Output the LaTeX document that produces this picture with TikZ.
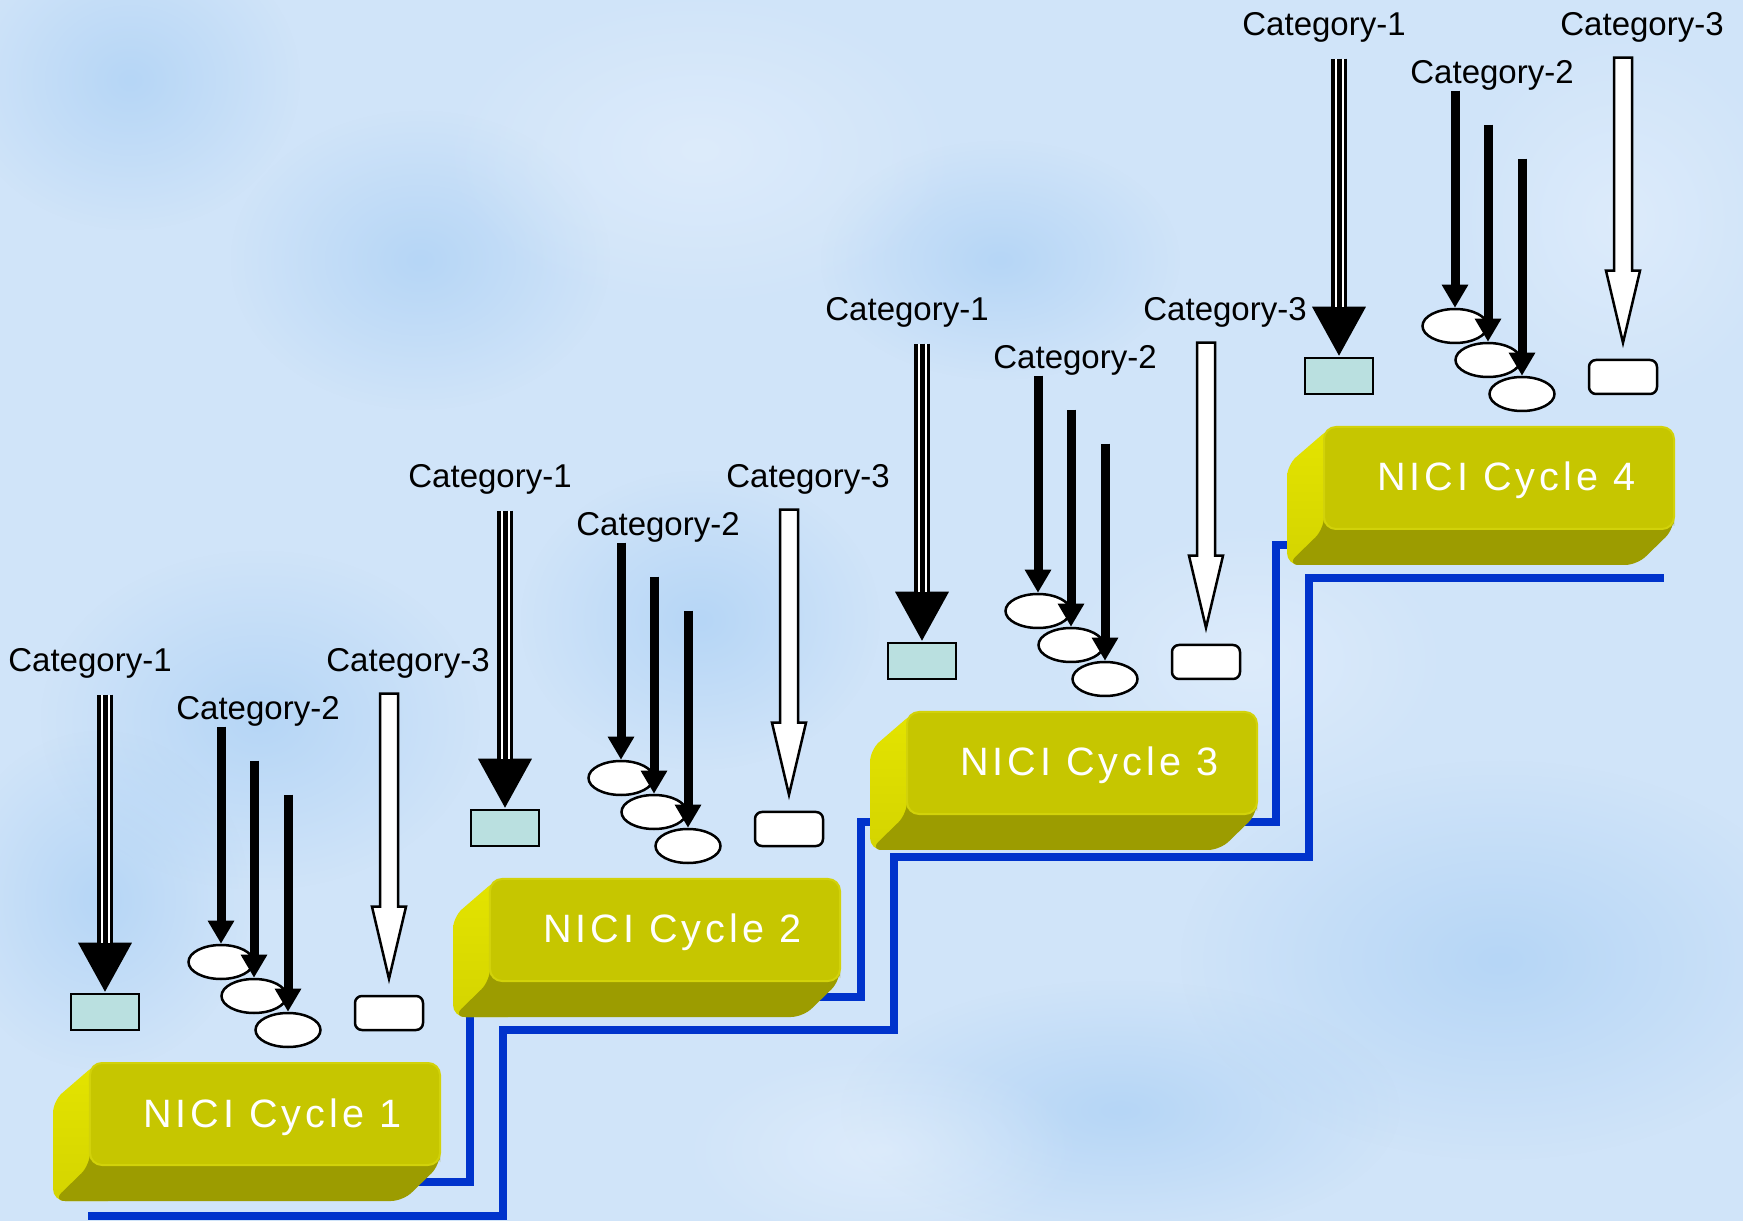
\documentclass[tikz,border=0pt]{standalone}
\usepackage{fontspec}
\setmainfont{Liberation Sans}
\newfontfamily\cyclefont[LetterSpace=10]{Liberation Sans}
\usetikzlibrary{arrows.meta,calc,shapes.geometric,fadings}

\definecolor{bgblue}{RGB}{208,228,249}
\definecolor{bgdark}{RGB}{156,200,243}
\definecolor{bglight}{RGB}{234,243,253}
\definecolor{stairblue}{RGB}{0,51,204}
\definecolor{boxfront}{RGB}{198,198,0}
\definecolor{boxrim}{RGB}{210,210,10}
\definecolor{boxlefttop}{RGB}{228,228,0}
\definecolor{boxleftbot}{RGB}{212,212,0}
\definecolor{boxbottom}{RGB}{156,156,0}
\definecolor{catcyan}{RGB}{186,224,224}

\tikzfading[name=softblob, inner color=transparent!50, outer color=transparent!100]

\tikzset{
  catlabel/.style={anchor=base west, inner sep=0pt, font=\fontsize{16.5bp}{19bp}\selectfont},
  cyclelabel/.style={anchor=base west, inner sep=0pt, text=white,
    font=\cyclefont\fontsize{19.8bp}{23bp}\selectfont},
  frontface/.style={rectangle, rounded corners=6bp, fill=boxfront, draw=boxrim,
    line width=1bp, minimum width=175bp, minimum height=51bp, inner sep=0pt},
  cyanbox/.style={rectangle, fill=catcyan, draw=black, line width=1.25bp,
    minimum width=34bp, minimum height=18bp, inner sep=0pt},
  whitebox/.style={rectangle, rounded corners=3.5bp, fill=white, draw=black, line width=1.25bp,
    minimum width=34bp, minimum height=17bp, inner sep=0pt},
  oval/.style={ellipse, fill=white, draw=black, line width=1.25bp,
    minimum width=32.5bp, minimum height=17bp, inner sep=0pt},
  thinarrow/.style={line width=4.5bp, -{Triangle[width=12.5bp,length=11.5bp]}},
  tripleouter/.style={line width=8bp, -{Triangle[width=25bp,length=25bp]}},
  hollowarrow/.style={fill=white, draw=black, line width=1.25bp, line join=miter},
  stair/.style={draw=stairblue, line width=4bp, line join=miter},
  blobd/.style={fill=bgdark, path fading=softblob},
  blobl/.style={fill=bglight, path fading=softblob},
}

\begin{document}
\begin{tikzpicture}[x=0.5bp,y=-0.5bp]
\useasboundingbox (0,0) rectangle (1743,1221);

% background
\fill[bgblue] (0,0) rectangle (1743,1221);
\fill[blobd] (130,80) ellipse (170 and 150);
\fill[blobd] (260,720) ellipse (220 and 170);
\fill[blobd] (100,900) ellipse (150 and 170);
\fill[blobd] (1000,260) ellipse (180 and 120);
\fill[blobd] (1500,960) ellipse (320 and 200);
\fill[blobd] (1120,1110) ellipse (280 and 130);
\fill[blobd] (700,620) ellipse (180 and 150);
\fill[blobd] (420,260) ellipse (190 and 150);
\fill[blobl] (700,150) ellipse (260 and 160);
\fill[blobl] (1250,660) ellipse (200 and 140);
\fill[blobl] (880,1150) ellipse (200 and 100);
\fill[blobl] (1620,220) ellipse (170 and 190);

% staircase lines behind the steps
\draw[stair] (88,1216) -- (503,1216) -- (503,1030) -- (894,1030) -- (894,857)
  -- (1309,857) -- (1309,578) -- (1664,578);
\draw[stair] (300,1182) -- (470,1182) -- (470,997) -- (861,997) -- (861,822)
  -- (1276,822) -- (1276,545) -- (1420,545);

\foreach \g/\dx/\dy in {1/0/0, 2/400/-184, 3/817/-351, 4/1234/-636}{
\begin{scope}[shift={(\dx,\dy)}]
  % step block: left face, bottom face, front face
  \shade[top color=boxlefttop, bottom color=boxleftbot, rounded corners=6bp]
    (97,1063) -- (53,1101) -- (53,1201) -- (120,1201) -- (120,1063) -- cycle;
  \fill[boxbottom, rounded corners=6bp]
    (90,1150) -- (90,1165) -- (53,1201) -- (403,1201) -- (440,1165) -- (440,1150) -- cycle;
  \node[frontface] (box\g) at (265,1114) {};
  \node[cyclelabel] (cyc\g) at (143,1127) {NICI Cycle \g};

  % category labels
  \node[catlabel] (lab1\g) at (8,672) {Category-1};
  \node[catlabel] (lab2\g) at (176,720) {Category-2};
  \node[catlabel] (lab3\g) at (326,672) {Category-3};

  % targets
  \node[cyanbox] (k\g) at (105,1012) {};
  \node[whitebox] (w\g) at (389,1013) {};
  \node[oval] (a\g) at (221,962) {};
  \node[oval] (b\g) at (254,996) {};
  \node[oval] (c\g) at (288,1030) {};

  % category-1: triple line arrow
  \coordinate (ks\g) at ($(k\g.north)+(0,-298)$);
  \coordinate (kh\g) at ($(k\g.north)+(0,-50)$);
  \draw[tripleouter] (ks\g) -- (k\g.north);
  \draw[white, line width=4.5bp] (ks\g) -- (kh\g);
  \draw[black, line width=2.5bp] (ks\g) -- (kh\g);

  % category-2: three arrows onto the ovals
  \draw[thinarrow] ($(a\g.north)+(0,-217)$) -- (a\g.north);
  \draw[thinarrow] ($(b\g.north)+(0,-217)$) -- (b\g.north);
  \draw[thinarrow] ($(c\g.north)+(0,-217)$) -- (c\g.north);

  % category-3: hollow block arrow
  \coordinate (wt\g) at ($(w\g.north)+(0,-16)$);
  \filldraw[hollowarrow] (wt\g) -- +(17,-72) -- +(9,-72) -- +(9,-285)
    -- +(-9,-285) -- +(-9,-72) -- +(-17,-72) -- cycle;
\end{scope}
}
\end{tikzpicture}
\end{document}
